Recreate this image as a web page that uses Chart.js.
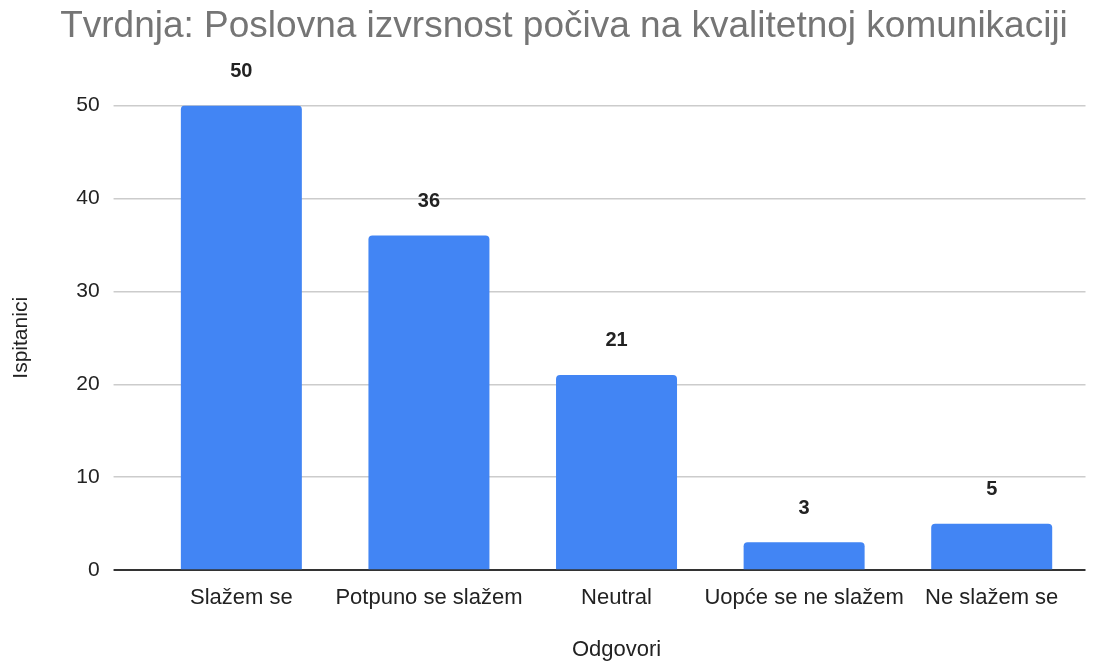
<!DOCTYPE html>
<html>
<head>
<meta charset="utf-8">
<script src="https://cdn.jsdelivr.net/npm/chart.js"></script>
<style>
  body { margin: 0; background: #fff; }
  #wrap { width: 1110px; height: 664px; }
</style>
</head>
<body>
<div id="wrap"><canvas id="chart"></canvas></div>
<script>
const categories = ['Slažem se', 'Potpuno se slažem', 'Neutral', 'Uopće se ne slažem', 'Ne slažem se'];
const responses = [50, 36, 21, 3, 5];
const yTicks = [0, 10, 20, 30, 40, 50];

const FONT = '"Liberation Sans", Arial, sans-serif';

// value labels above each bar, plus a nudge so the title sits centred on the page
const barLabels = {
    id: 'barLabels',
    afterLayout(chart) {
        if (chart.titleBlock) {
            chart.titleBlock.left = 18;
            chart.titleBlock.right = 1110;
        }
    },
    afterDatasetsDraw(chart) {
        const ctx = chart.ctx;
        const meta = chart.getDatasetMeta(0);
        ctx.save();
        ctx.font = 'bold 20px ' + FONT;
        ctx.fillStyle = '#222';
        ctx.textAlign = 'center';
        ctx.textBaseline = 'middle';
        meta.data.forEach((bar, i) => {
            ctx.fillText(responses[i], bar.x, bar.y - 34);
        });
        ctx.restore();
    }
};

new Chart(document.getElementById('chart').getContext('2d'), {
    type: 'bar',
    data: {
        labels: categories,
        datasets: [{
            data: responses,
            backgroundColor: '#4285F4',
            borderRadius: { topLeft: 4, topRight: 4 },
            borderSkipped: 'bottom',
            barPercentage: 1,
            categoryPercentage: 0.645
        }]
    },
    options: {
        responsive: true,
        maintainAspectRatio: false,
        animation: false,
        layout: { padding: { top: 5, right: 24.5, bottom: 1, left: 0 } },
        plugins: {
            legend: { display: false },
            tooltip: { enabled: false },
            title: {
                display: true,
                text: 'Tvrdnja: Poslovna izvrsnost počiva na kvalitetnoj komunikaciji',
                color: '#757575',
                font: { family: FONT, size: 37, weight: 'normal' },
                padding: { top: 0, bottom: 56 }
            }
        },
        scales: {
            x: {
                grid: { display: false, drawTicks: false },
                border: { display: false },
                ticks: {
                    color: '#222',
                    font: { family: FONT, size: 22 },
                    padding: 15,
                    maxRotation: 0,
                    autoSkip: false
                },
                title: {
                    display: true,
                    text: 'Odgovori',
                    color: '#222',
                    font: { family: FONT, size: 22 },
                    padding: { top: 10, bottom: 0 }
                }
            },
            y: {
                min: 0,
                max: 50,
                afterBuildTicks(scale) {
                    scale.ticks = yTicks.map(v => ({ value: v }));
                },
                grid: {
                    color: c => c.tick && c.tick.value === 0 ? '#333' : '#ccc',
                    lineWidth: c => c.tick && c.tick.value === 0 ? 2 : 1.5,
                    drawTicks: true,
                    tickLength: 34
                },
                border: { display: false },
                ticks: {
                    color: '#222',
                    font: { family: FONT, size: 21 },
                    padding: 14
                },
                title: {
                    display: true,
                    text: 'Ispitanici',
                    color: '#222',
                    font: { family: FONT, size: 21 },
                    padding: { top: 9, bottom: 28 }
                }
            }
        }
    },
    plugins: [barLabels]
});
</script>
</body>
</html>
